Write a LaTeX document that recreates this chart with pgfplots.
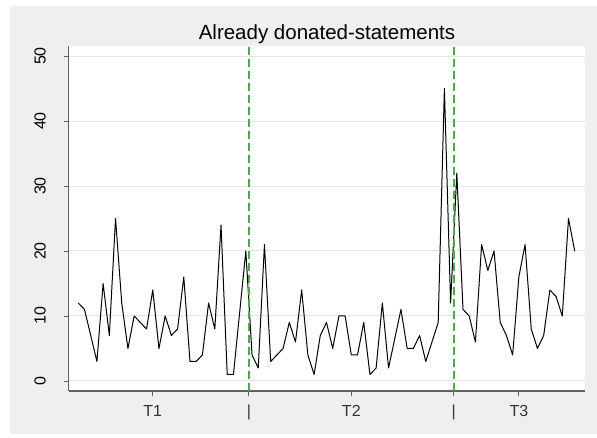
\documentclass[border=0pt]{standalone}
\usepackage{fontspec}
\setmainfont{Liberation Sans}
\usepackage{pgfplots}
\pgfplotsset{compat=1.18}
\definecolor{bggray}{RGB}{239,239,239}
\definecolor{gridgray}{RGB}{228,228,228}
\definecolor{axgray}{RGB}{95,95,95}
\definecolor{dgreen}{RGB}{76,170,76}
\begin{document}
\begin{tikzpicture}
\path[use as bounding box] (0,0) rectangle (597pt,437pt);
\fill[white] (0,0) rectangle (597pt,437pt);
\fill[bggray] (10pt,3pt) rectangle (597pt,431pt);
\begin{axis}[
  at={(69pt,46pt)}, anchor=south west,
  scale only axis, width=516pt, height=345pt,
  xmin=-0.5, xmax=82.66, ymin=-1.54, ymax=51.54,
  axis background/.style={fill=white},
  axis x line*=bottom, axis y line*=left,
  x axis line style={-, axgray, line width=1.4pt},
  y axis line style={-, axgray, line width=1pt},
  tick align=outside, major tick length=5pt,
  tick style={axgray, line width=0.9pt},
  ytick={0,10,...,50},
  xtick={13,28.5,45,61.5,72},
  xticklabels={T1,|,T2,|,T3},
  /pgf/number format/assume math mode=true,
  tick label style={font=\fontsize{16}{16}\selectfont, inner sep=0pt},
  yticklabel style={rotate=90, anchor=south},
  yticklabel shift=18pt,
  xticklabel style={anchor=base, text=black!80},
  xticklabel shift=20pt,
  ymajorgrids, major grid style={gridgray, line width=1pt},
  title={Already donated-statements},
  title style={at={(0.5,1)}, anchor=base, yshift=0.5pt, inner sep=0pt, font=\fontsize{20.5}{23}\selectfont},
]
\addplot[black, line width=1pt, mark=none, line join=round] table {
x y
1 12
2 11
3 7
4 3
5 15
6 7
7 25
8 12
9 5
10 10
11 9
12 8
13 14
14 5
15 10
16 7
17 8
18 16
19 3
20 3
21 4
22 12
23 8
24 24
25 1
26 1
27 10.5
28 20
29 4
30 2
31 21
32 3
33 4
34 5
35 9
36 6
37 14
38 4
39 1
40 7
41 9
42 5
43 10
44 10
45 4
46 4
47 9
48 1
49 2
50 12
51 2
52 6.5
53 11
54 5
55 5
56 7
57 3
58 6
59 9
60 45
61 12
62 32
63 11
64 10
65 6
66 21
67 17
68 20
69 9
70 7
71 4
72 16
73 21
74 8
75 5
76 7
77 14
78 13
79 10
80 25
81 20
};
\addplot[dgreen, line width=1.7pt, dash pattern=on 8pt off 4pt] coordinates {(28.5,-1.54) (28.5,51.54)};
\addplot[dgreen, line width=1.7pt, dash pattern=on 8pt off 4pt] coordinates {(61.5,-1.54) (61.5,51.54)};
\end{axis}
\end{tikzpicture}
\end{document}
